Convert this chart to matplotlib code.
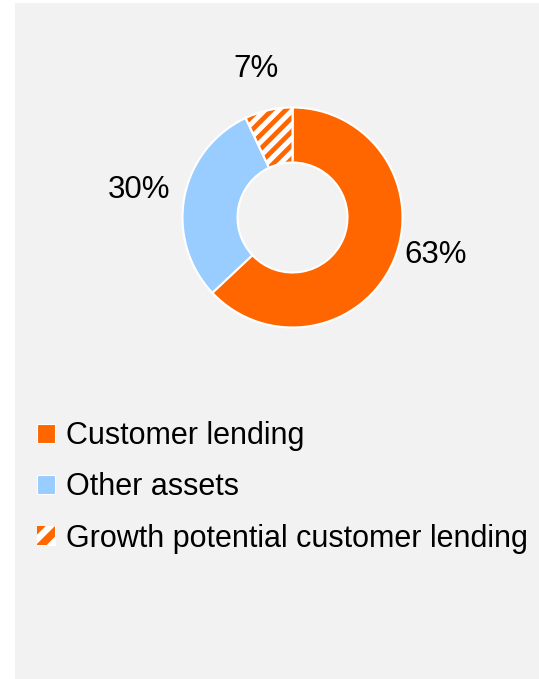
import numpy as np
import matplotlib
matplotlib.use("Agg")
import matplotlib.pyplot as plt
from matplotlib.lines import Line2D
from matplotlib.patches import Patch, Rectangle, Wedge
from matplotlib.legend_handler import HandlerPatch

plt.rcParams["font.family"] = ["Liberation Sans", "DejaVu Sans"]

categories = ["Customer lending", "Other assets", "Growth potential customer lending"]
shares = [63, 30, 7]
pct_labels = ["63%", "30%", "7%"]

ORANGE = "#FF6600"
BLUE = "#99CCFF"
PANEL = "#F2F2F2"
FS = 22.0
STRIPE_LW = 3.4


class StripedHandler(HandlerPatch):
    """White key box with orange diagonal stripes."""

    def create_artists(self, legend, orig_handle, xdescent, ydescent,
                       width, height, fontsize, trans):
        x0, y0 = -xdescent, -ydescent
        box = Rectangle((x0, y0), width, height, facecolor="white",
                        edgecolor="white", linewidth=0.8, transform=trans)
        arts = [box]
        for c in (0.85 * height, -0.2 * height):
            ln = Line2D([x0 - width, x0 + 2 * width],
                        [y0 + c - width, y0 + c + 2 * width],
                        color=ORANGE, linewidth=0.4 * height,
                        solid_capstyle="butt", transform=trans)
            ln.set_clip_path(box)
            arts.append(ln)
        return arts


W, H = 539, 679
fig = plt.figure(figsize=(W / 100, H / 100), dpi=100)
fig.patch.set_facecolor("white")

# grey chart area
bg = fig.add_axes([15 / W, 0, 1 - 15 / W, (H - 3) / H], zorder=0)
bg.set_facecolor(PANEL)
bg.set_xticks([])
bg.set_yticks([])
for s in bg.spines.values():
    s.set_visible(False)

# donut axes: centre (292.5, 217.5) px, radius 110 px
cx, cy, r = 292.5, 217.5, 110
ax = fig.add_axes([(cx - r) / W, (H - cy - r) / H, 2 * r / W, 2 * r / H], zorder=2)
ax.set_facecolor("none")
ax.axis("off")

wedges, _ = ax.pie(shares, colors=[ORANGE, BLUE, "white"], startangle=90,
                   counterclock=False, radius=1.0,
                   wedgeprops=dict(width=0.5, edgecolor="white", linewidth=1.5))
ax.set_xlim(-1, 1)
ax.set_ylim(-1, 1)

# striped slice: 45-degree orange bands clipped to the white wedge
w = wedges[2]
gap = 0.125
for c in 0.914 + gap * np.arange(-12, 6):
    ln, = ax.plot([-1.2, 1.2], [c - 1.2, c + 1.2], color=ORANGE,
                  linewidth=STRIPE_LW, solid_capstyle="butt", zorder=3)
    ln.set_clip_path(w)
ax.add_patch(Wedge(w.center, w.r, w.theta1, w.theta2, width=w.width,
                   fill=False, edgecolor="white", linewidth=1.5, zorder=5))

label_pos = [(1.305, -0.416), (-1.395, 0.18), (-0.336, 1.28)]
for txt, (x, y) in zip(pct_labels, label_pos):
    ax.text(x, y, txt, ha="center", va="baseline", fontsize=22.5,
            color="black", clip_on=False)

handles = [Patch(facecolor=ORANGE, edgecolor="white", linewidth=0.8),
           Patch(facecolor=BLUE, edgecolor="white", linewidth=0.8),
           Patch(facecolor="white")]
leg = fig.legend(handles, categories, loc="upper left",
                 bbox_to_anchor=(37 / W, 1 - 421 / H), frameon=False,
                 fontsize=FS, handlelength=0.58, handleheight=0.58,
                 handletextpad=0.36, labelspacing=0.70, borderpad=0,
                 borderaxespad=0,
                 handler_map={handles[2]: StripedHandler()})
leg.set_zorder(3)

fig.savefig("out.png", dpi=100, facecolor=fig.get_facecolor())
